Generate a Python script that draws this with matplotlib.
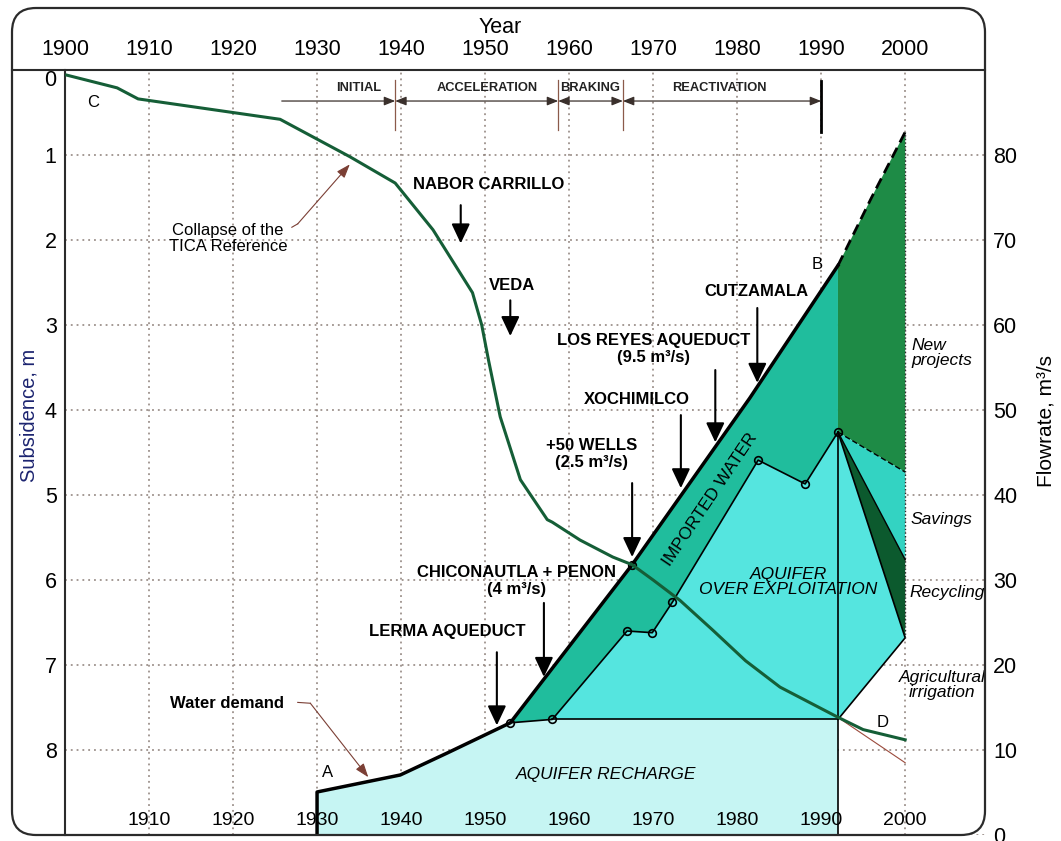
import matplotlib
matplotlib.use('Agg')
import matplotlib.pyplot as plt
from matplotlib.patches import FancyBboxPatch, Polygon
from matplotlib.lines import Line2D
from matplotlib.transforms import IdentityTransform

plt.rcParams['font.family'] = ['Liberation Sans', 'DejaVu Sans']

# Subsidence of the city centre (m)
sub_years = [1900.2, 1906.2, 1908.7, 1925.6, 1933.9, 1939.3, 1943.8, 1948.5, 1949.6,
             1950.4, 1951.8, 1954.2, 1957.4, 1958.0, 1961.3, 1965.2, 1967.5, 1970.0,
             1973.2, 1977.1, 1981.0, 1985.1, 1991.9, 1995.0, 2000.0]
subsidence = [0.06, 0.21, 0.34, 0.58, 1.02, 1.33, 1.88, 2.62, 3.0,
              3.41, 4.08, 4.82, 5.29, 5.32, 5.53, 5.73, 5.82, 6.0,
              6.24, 6.59, 6.95, 7.26, 7.61, 7.76, 7.88]
proj_sub_years = [1991.9, 2000.0]
proj_subsidence = [7.61, 8.15]

# Water demand (m3/s)
dem_years = [1930.0, 1930.0, 1939.9, 1945.5, 1953.0, 1967.5, 1981.5, 1992.0]
demand = [0.0, 5.06, 7.06, 9.65, 13.2, 31.8, 51.4, 67.0]
dem_proj_years = [1992.0, 1996.0, 2000.0]
dem_proj = [67.0, 75.0, 82.7]

# Aquifer pumping = top of the over-exploitation band (m3/s)
pump_years = [1953.0, 1958.0, 1966.9, 1969.9, 1972.3, 1982.5, 1988.1, 1992.0]
pumping = [13.2, 13.6, 24.0, 23.8, 27.4, 44.1, 41.3, 47.4]
recharge = 13.6

# Year-2000 plan levels
plan_year = 2000.0
plan_savings = 42.7
plan_recycling = 32.4
plan_irrigation = 23.2

# Stages of subsidence
stage_names = ['INITIAL', 'ACCELERATION', 'BRAKING', 'REACTIVATION']
stage_bounds = [1925.8, 1939.3, 1958.7, 1966.4, 1990.0]
stage_label_x = [1935.0, 1950.2, 1962.5, 1977.9]

# Events: label, label x, label y, arrow x, arrow start, arrow tip
events = [
    ('NABOR CARRILLO', 1950.4, 76.5, 1947.1, 74.1, 69.6),
    ('VEDA', 1953.2, 64.7, 1953.0, 62.9, 58.7),
    ('CUTZAMALA', 1982.3, 63.9, 1982.4, 62.0, 53.2),
    ('LOS REYES AQUEDUCT\n(9.5 m³/s)', 1970.0, 57.2, 1977.4, 54.7, 46.2),
    ('XOCHIMILCO', 1968.1, 51.2, 1973.3, 49.4, 40.8),
    ('+50 WELLS\n(2.5 m³/s)', 1962.7, 44.85, 1967.5, 41.4, 32.7),
    ('CHICONAUTLA + PENON\n(4 m³/s)', 1953.7, 29.9, 1957.0, 27.3, 18.6),
    ('LERMA AQUEDUCT', 1945.5, 23.9, 1951.4, 21.5, 12.9),
]

c_recharge = '#c6f5f3'
c_overexp = '#55e5df'
c_imported = '#20bd9d'
c_newproj = '#1e8b46'
c_savings = '#33d3c2'
c_recycling = '#0c5a2e'
c_sub = '#155e37'
c_leader = '#7b3f35'
c_grid = '#8c7f78'

fig = plt.figure(figsize=(10.61, 8.41), dpi=100)
ax_f = fig.add_axes([65 / 1061, 6 / 841, 920 / 1061, 765 / 841])
ax_s = ax_f.twinx()
ax_s.set_zorder(ax_f.get_zorder() + 1)
ax_s.patch.set_visible(False)

ax_f.set_xlim(1900, 2009.5)
ax_f.set_ylim(0, 90)
ax_s.set_ylim(9, 0)

# grid
ax_f.set_axisbelow(True)
ax_f.set_xticks(range(1900, 2001, 10))
ax_f.set_yticks(range(0, 81, 10))
ax_f.grid(True, color=c_grid, linestyle=(0, (1.2, 2.6)), linewidth=1.1)

# filled areas
recharge_poly = list(zip(dem_years[:5], demand[:5])) + [(pump_years[1], pumping[1]),
                (pump_years[-1], recharge), (pump_years[-1], 0.0)]
imported_poly = list(zip(dem_years[4:], demand[4:])) + list(zip(pump_years[::-1], pumping[::-1]))
overexp_poly = list(zip(pump_years[1:], pumping[1:])) + [(plan_year, plan_irrigation),
               (pump_years[-1], recharge)]
newproj_poly = list(zip(dem_proj_years, dem_proj)) + [(plan_year, plan_savings),
               (pump_years[-1], pumping[-1])]
savings_poly = [(pump_years[-1], pumping[-1]), (plan_year, plan_savings), (plan_year, plan_recycling)]
recycling_poly = [(pump_years[-1], pumping[-1]), (plan_year, plan_recycling), (plan_year, plan_irrigation)]

for poly, col in [(recharge_poly, c_recharge), (imported_poly, c_imported),
                  (overexp_poly, c_overexp), (newproj_poly, c_newproj),
                  (savings_poly, c_savings), (recycling_poly, c_recycling)]:
    ax_f.add_patch(Polygon(poly, closed=True, facecolor=col, edgecolor='none', zorder=1))

# outlines
ax_f.plot([pump_years[1], pump_years[-1]], [recharge, recharge], color='black', lw=1.2, zorder=2)
ax_f.plot([pump_years[-1], pump_years[-1]], [0, pumping[-1]], color='black', lw=1.2, zorder=2)
ax_f.plot([pump_years[-1], plan_year, pump_years[-1]], [pumping[-1], plan_irrigation, recharge],
          color='black', lw=1.2, zorder=2)
ax_f.plot([pump_years[-1], plan_year], [pumping[-1], plan_recycling], color='black', lw=1.0, zorder=2)
ax_f.plot([pump_years[-1], plan_year], [pumping[-1], plan_savings], color='black', lw=1.0,
          linestyle=(0, (4, 2)), zorder=2)
ax_f.plot([plan_year, plan_year], [plan_irrigation, dem_proj[-1]], color='#2a2a2a', lw=1.0,
          linestyle=(0, (1, 1.6)), zorder=2)
ax_f.plot(pump_years, pumping, color='black', lw=1.2, marker='o', ms=5.5, mfc='none',
          mec='black', mew=1.2, zorder=4)

# water demand
ax_f.plot(dem_years, demand, color='black', lw=2.5, zorder=3, solid_joinstyle='round')
ax_f.plot(dem_proj_years, dem_proj, color='black', lw=2.0, linestyle=(0, (4, 2.2)), zorder=3)
ax_f.plot([dem_years[5]], [demand[5]], marker='o', ms=5.5, mfc='none', mec='black', mew=1.2, zorder=4)

# subsidence
ax_s.plot(sub_years, subsidence, color=c_sub, lw=2.2, zorder=3)
ax_s.plot(proj_sub_years, proj_subsidence, color='#9b4a3c', lw=0.8, zorder=2)

# stage timeline
tl_y = 86.35
for i, name in enumerate(stage_names):
    style = '-|>' if i == 0 else '<|-|>'
    ax_f.annotate('', xy=(stage_bounds[i + 1], tl_y), xytext=(stage_bounds[i], tl_y),
                  arrowprops=dict(arrowstyle=style + ',head_length=0.55,head_width=0.22',
                                  color='#3a302c', lw=0.9, shrinkA=0, shrinkB=0,
                                  mutation_scale=12), zorder=5)
    ax_f.text(stage_label_x[i], 87.9, name, ha='center', va='center', fontsize=9.3,
              fontweight='bold', color='#222222', zorder=5)
for b in stage_bounds[1:-1]:
    ax_f.plot([b, b], [82.9, 88.8], color='#8b5a4a', lw=0.9, zorder=5)
ax_f.plot([stage_bounds[-1]] * 2, [82.7, 88.7], color='black', lw=2.0, zorder=5)

# events
for label, lx, ly, ax_x, y0, y1 in events:
    ax_f.text(lx, ly, label, ha='center', va='center', fontsize=12, fontweight='bold',
              linespacing=1.15, zorder=5)
    ax_f.annotate('', xy=(ax_x, y1), xytext=(ax_x, y0),
                  arrowprops=dict(arrowstyle='-|>,head_length=0.85,head_width=0.4',
                                  color='black', lw=1.5, shrinkA=0, shrinkB=0,
                                  mutation_scale=14), zorder=5)

# leaders
ax_f.text(1919.4, 70.2, 'Collapse of the\nTICA Reference', ha='center', va='center',
          fontsize=12, linespacing=1.05, zorder=5)
ax_f.plot([1927.0, 1927.7], [71.5, 71.9], color=c_leader, lw=0.8, zorder=5)
ax_f.annotate('', xy=(1933.9, 78.9), xytext=(1927.7, 71.9),
              arrowprops=dict(arrowstyle='-|>,head_length=0.7,head_width=0.25', color=c_leader,
                              lw=0.8, shrinkA=0, shrinkB=0, mutation_scale=12), zorder=5)
ax_f.text(1919.3, 15.5, 'Water demand', ha='center', va='center', fontsize=12,
          fontweight='bold', zorder=5)
ax_f.plot([1927.7, 1929.2], [15.6, 15.5], color=c_leader, lw=0.8, zorder=5)
ax_f.annotate('', xy=(1936.1, 6.8), xytext=(1929.2, 15.5),
              arrowprops=dict(arrowstyle='-|>,head_length=0.7,head_width=0.25', color=c_leader,
                              lw=0.8, shrinkA=0, shrinkB=0, mutation_scale=12), zorder=5)

# point letters
for letter, lx, ly in [('C', 1903.3, 86.2), ('A', 1931.2, 7.3), ('B', 1989.5, 67.1), ('D', 1997.3, 13.2)]:
    ax_f.text(lx, ly, letter, ha='center', va='center', fontsize=12, zorder=5)

# area labels
ax_f.text(1976.8, 39.5, 'IMPORTED WATER', rotation=56, rotation_mode='anchor', ha='center',
          va='center', fontsize=12.5, zorder=5)
ax_f.text(1986.1, 29.8, 'AQUIFER\nOVER EXPLOITATION', ha='center', va='center', fontsize=12.5,
          style='italic', linespacing=1.0, zorder=5)
ax_f.text(1964.4, 7.1, 'AQUIFER RECHARGE', ha='center', va='center', fontsize=12.5,
          style='italic', zorder=5)
ax_f.text(2000.8, 56.7, 'New\nprojects', ha='left', va='center', fontsize=12.5, style='italic',
          linespacing=1.05, zorder=5)
ax_f.text(2000.6, 37.1, 'Savings', ha='left', va='center', fontsize=12.5, style='italic', zorder=5)
ax_f.text(2000.5, 28.5, 'Recycling', ha='left', va='center', fontsize=12.5, style='italic', zorder=5)
ax_f.text(2004.4, 17.6, 'Agricultural\nirrigation', ha='center', va='center', fontsize=12.5,
          style='italic', linespacing=1.0, zorder=5)

# year labels along the bottom, inside the plot
for yr in range(1910, 2001, 10):
    ax_f.text(yr, 1.75, str(yr), ha='center', va='center', fontsize=14, zorder=5)

# axes, ticks and labels
ax_f.tick_params(axis='x', top=True, bottom=False, labeltop=True, labelbottom=False,
                 length=0, pad=7, labelsize=15.5)
ax_f.tick_params(axis='y', left=False, right=False, labelleft=False, labelright=True,
                 length=0, pad=6, labelsize=15.5)
ax_s.set_yticks(range(0, 9))
ax_s.tick_params(axis='y', left=False, right=False, labelleft=True, labelright=False,
                 length=0, pad=6, labelsize=15.5)
ax_s.yaxis.get_major_ticks()[0].label1.set_verticalalignment('top')

ax_f.xaxis.set_label_position('top')
ax_f.set_xlabel('Year', fontsize=15.5)
ax_f.xaxis.set_label_coords(0.473, 1.048)
ax_s.yaxis.set_label_position('left')
ax_s.set_ylabel('Subsidence, m', fontsize=14.5, color='#1c2470')
ax_s.yaxis.set_label_coords(-0.029, 0.549)
ax_f.yaxis.set_label_position('right')
ax_f.set_ylabel('Flowrate, m³/s', fontsize=15, rotation=90)
ax_f.yaxis.set_label_coords(1.056, 0.541)

for sp in ['top', 'right', 'bottom']:
    ax_f.spines[sp].set_visible(False)
ax_f.spines['left'].set_linewidth(1.5)
ax_f.spines['left'].set_color('#2b2b2b')
for sp in ax_s.spines.values():
    sp.set_visible(False)

# rounded frame and the rule under the year axis
fig.add_artist(FancyBboxPatch((12, 6), 973, 827, boxstyle='round,pad=0,rounding_size=24',
                              transform=IdentityTransform(), fill=False, lw=1.6,
                              ec='#2b2b2b'))
fig.add_artist(Line2D([12, 985], [771, 771], transform=IdentityTransform(), lw=1.5,
                      color='#2b2b2b'))

fig.savefig('out.png', dpi=100)
